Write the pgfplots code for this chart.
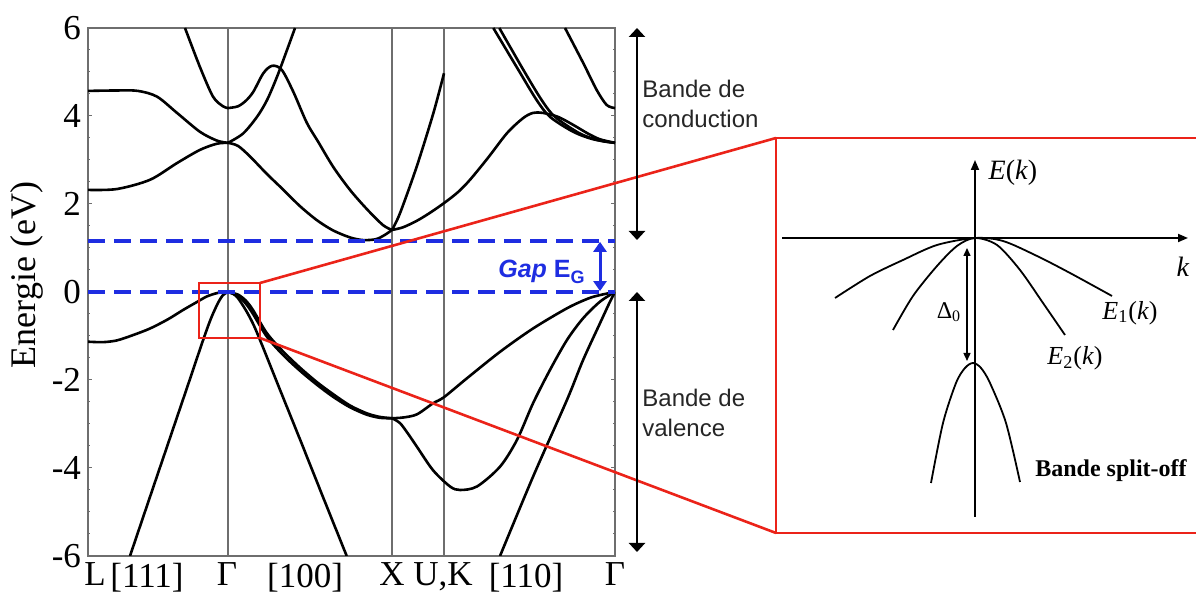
\documentclass[border=0pt]{standalone}
\usepackage{pgfplots}
\pgfplotsset{compat=1.18}
\usepackage{fontspec}
\setmainfont{Liberation Serif}
\newfontfamily\arial{Liberation Sans}
\usetikzlibrary{arrows.meta}
\definecolor{gapblue}{RGB}{30,45,225}
\definecolor{zred}{RGB}{235,35,25}
\definecolor{framegray}{RGB}{110,110,110}
\pgfplotsset{band/.style={black, solid, line width=1.3pt, smooth, no markers}}

\begin{document}
\begin{tikzpicture}
\begin{axis}[
  at={(44pt,21pt)}, anchor=south west,
  scale only axis, width=263.5pt, height=264pt,
  xmin=0, xmax=527, ymin=-6, ymax=6,
  xtick={7,59,139,217,304,355,438,527},
  xticklabels={L,[111],Γ,[100],X,{U,K},[110],Γ},
  ytick={-6,-4,-2,0,2,4,6},
  minor y tick num=3,
  tick align=inside,
  major tick length=2pt, minor tick length=1.2pt,
  xtick style={draw=none},
  ytick style={framegray, line width=0.5pt},
  axis line style={framegray, line width=0.6pt},
  ticklabel style={font=\fontsize{17.5}{17.5}\selectfont},
  /pgf/number format/assume math mode=true,
  ylabel={Energie (eV)},
  ylabel style={font=\fontsize{18}{18}\selectfont, at={(axis description cs:-0.116,0.532)}, anchor=center},
]
% symmetry lines
\draw[framegray, line width=0.7pt] (axis cs:140,-6) -- (axis cs:140,6);
\draw[framegray, line width=0.7pt] (axis cs:304,-6) -- (axis cs:304,6);
\draw[framegray, line width=0.7pt] (axis cs:356,-6) -- (axis cs:356,6);
% conduction bands
\addplot[band] coordinates {(0,2.32)(29,2.34)(62,2.55)(89,2.93)(112,3.23)(129,3.37)(140,3.39)};
\addplot[band] coordinates {(0,4.57)(30,4.58)(50,4.57)(69,4.44)(89,4.07)(112,3.64)(129,3.44)(140,3.39)};
\addplot[band] coordinates {(97,6)(112,5.11)(125,4.44)(135,4.22)(140,4.18)};
\addplot[band] coordinates {(140,4.18)(150,4.22)(158,4.35)(165.3,4.55)(175.3,4.97)(184,5.14)(193.7,5.05)(205.3,4.55)(218.7,3.85)(230,3.42)(245.3,2.84)(262,2.32)(279,1.88)(295,1.52)(304,1.41)};
\addplot[band] coordinates {(140,3.39)(155,3.6)(169,3.98)(179,4.36)(189,4.89)(199,5.5)(207,6)};
\addplot[band] coordinates {(140,3.39)(150,3.32)(162,3.08)(179,2.68)(195,2.33)(212,1.95)(229,1.63)(245,1.4)(262,1.24)(275,1.18)(288,1.2)(297,1.3)(304,1.41)};
\addplot[band] coordinates {(304,1.41)(312,1.79)(328.7,2.85)(345.3,4.06)(356,4.97)};
\addplot[band] coordinates {(304,1.41)(315,1.47)(329,1.62)(342,1.8)(356,2.02)(370,2.27)(382,2.55)(400,3.05)(419,3.61)(435,3.95)(445,4.07)(455,4.07)(470,3.98)(485,3.8)(500,3.6)(512,3.47)(527,3.39)};
\addplot[band] coordinates {(405.3,6)(430.3,5.05)(448.7,4.36)(462,3.98)(485.3,3.64)(505.3,3.47)(527,3.39)};
\addplot[band] coordinates {(411.3,6)(435.3,5.05)(453.7,4.36)(467,3.98)(492,3.6)(512,3.44)(527,3.39)};
\addplot[band] coordinates {(477,6)(495.3,5.2)(508.7,4.59)(518.7,4.25)(527,4.18)};
% valence bands
\addplot[band] coordinates {(0,-1.13)(15,-1.14)(29,-1.1)(45,-0.98)(62,-0.83)(80,-0.62)(95,-0.41)(108,-0.24)(119,-0.1)(130,-0.02)(140,0)};
\addplot[band] coordinates {(42,-6)(60,-4.79)(80,-3.45)(100,-2.11)(115,-1.1)(123,-0.6)(130,-0.25)(135,-0.07)(140,0)};
\addplot[band] coordinates {(140,0)(150,-0.06)(158,-0.2)(165,-0.41)(179,-0.94)(195,-1.35)(212,-1.72)(229,-2.05)(245,-2.32)(262,-2.58)(279,-2.76)(292,-2.84)(304,-2.87)};
\addplot[band] coordinates {(140,0)(150,-0.09)(158,-0.27)(165,-0.5)(179,-1.02)(195,-1.43)(212,-1.79)(229,-2.11)(245,-2.38)(262,-2.62)(279,-2.79)(292,-2.86)(304,-2.87)};
\addplot[band] coordinates {(140,0)(145,-0.04)(150,-0.14)(158,-0.42)(165,-0.72)(172,-1.09)(190,-2.11)(212,-3.35)(235,-4.66)(258.7,-6)};
\addplot[band] coordinates {(304,-2.87)(316,-2.85)(329,-2.78)(345,-2.53)(356,-2.39)(379,-1.96)(412,-1.36)(445,-0.83)(479,-0.37)(500,-0.15)(512,-0.07)(527,0)};
\addplot[band] coordinates {(304,-2.87)(312,-2.98)(320,-3.22)(329,-3.52)(345,-4.05)(362,-4.42)(372,-4.5)(389,-4.42)(412,-3.97)(429,-3.36)(445,-2.53)(462,-1.77)(479,-1.09)(495,-0.6)(512,-0.22)(527,0)};
\addplot[band] coordinates {(412,-6)(445,-4.2)(479,-2.45)(495,-1.55)(512,-0.71)(522,-0.22)(527,0)};
% gap lines
\addplot[gapblue, line width=2pt, sharp plot, no markers, dash pattern=on 8.5pt off 4.5pt] coordinates {(0,1.16)(527,1.16)};
\addplot[gapblue, line width=2pt, sharp plot, no markers, dash pattern=on 8.5pt off 4.5pt] coordinates {(0,0)(527,0)};
\draw[gapblue, line width=1.5pt, {Triangle[length=5pt,width=6.5pt]}-{Triangle[length=5pt,width=6.5pt]}] (axis cs:512,1.14) -- (axis cs:512,0.02);
\end{axis}

\begin{axis}[
  at={(0pt,0pt)}, anchor=south west,
  scale only axis, width=598pt, height=299pt,
  xmin=0, xmax=1196, ymin=0, ymax=598,
  hide axis, clip=false,
]
% zoom rectangle and connectors
\draw[zred, line width=1.3pt] (axis cs:199,260) rectangle (axis cs:260,315);
\draw[zred, line width=1.3pt] (axis cs:260,315) -- (axis cs:776,460);
\draw[zred, line width=1.3pt] (axis cs:260,260) -- (axis cs:776,65);
\draw[zred, line width=1.4pt] (axis cs:776,65) rectangle (axis cs:1205,460);
% gap label
\node[anchor=base east, text=gapblue, inner sep=0pt, font=\arial\bfseries\fontsize{12.5}{12.5}\selectfont] at (axis cs:585,320) {\itshape Gap\upshape{} E\raisebox{-0.4ex}{\fontsize{9}{9}\selectfont G}};
% band arrows
\draw[black, line width=1.4pt, {Triangle[length=4.5pt,width=8pt]}-{Triangle[length=4.5pt,width=8pt]}] (axis cs:637,570) -- (axis cs:637,358);
\draw[black, line width=1.4pt, {Triangle[length=4.5pt,width=8pt]}-{Triangle[length=4.5pt,width=8pt]}] (axis cs:637,306) -- (axis cs:637,46);
\node[anchor=base west, inner sep=0pt, text=black!85, font=\arial\fontsize{12}{12}\selectfont] at (axis cs:642,500) {Bande de};
\node[anchor=base west, inner sep=0pt, text=black!85, font=\arial\fontsize{12}{12}\selectfont] at (axis cs:642,470) {conduction};
\node[anchor=base west, inner sep=0pt, text=black!85, font=\arial\fontsize{12}{12}\selectfont] at (axis cs:642,191) {Bande de};
\node[anchor=base west, inner sep=0pt, text=black!85, font=\arial\fontsize{12}{12}\selectfont] at (axis cs:642,161) {valence};
% inset schematic
\draw[black, line width=0.9pt, -{Triangle[length=5pt,width=4pt]}] (axis cs:975,81) -- (axis cs:975,438);
\draw[black, line width=0.9pt, -{Triangle[length=5pt,width=4pt]}] (axis cs:782,360) -- (axis cs:1188,360);
\addplot[black, solid, no markers, line width=0.9pt, smooth] coordinates {(835,300)(870,322)(903,338)(937,353)(975,360)(1003,357)(1037,342)(1070,325)(1112,302)};
\addplot[black, solid, no markers, line width=0.9pt, smooth] coordinates {(893,268)(913,302)(937,332)(957,352)(975,360)(997,353)(1020,328)(1043,295)(1065,263)};
\addplot[black, solid, no markers, line width=0.9pt, smooth] coordinates {(931,115)(943,175)(956,215)(965,230)(973,235)(981,230)(990,215)(1006,175)(1020,116)};
\draw[black, line width=0.7pt, {Triangle[length=4pt,width=3.5pt]}-{Triangle[length=4pt,width=3.5pt]}] (axis cs:967,350) -- (axis cs:967,237);
\node[font=\fontsize{14}{14}\selectfont] at (axis cs:1013,425) {\textit{E}(\textit{k})};
\node[font=\fontsize{14}{14}\selectfont] at (axis cs:1183,331) {\textit{k}};
\node[font=\fontsize{13}{13}\selectfont] at (axis cs:1130,285) {\textit{E}\textsubscript{1}(\textit{k})};
\node[font=\fontsize{13}{13}\selectfont] at (axis cs:1075,240) {\textit{E}\textsubscript{2}(\textit{k})};
\node[font=\fontsize{12}{12}\selectfont] at (axis cs:949,286) {Δ\textsubscript{0}};
\node[font=\bfseries\fontsize{12}{12}\selectfont] at (axis cs:1111,127) {Bande split-off};
\end{axis}
\pgfresetboundingbox
\useasboundingbox (0pt,0pt) rectangle (598pt,299pt);
\end{tikzpicture}
\end{document}
